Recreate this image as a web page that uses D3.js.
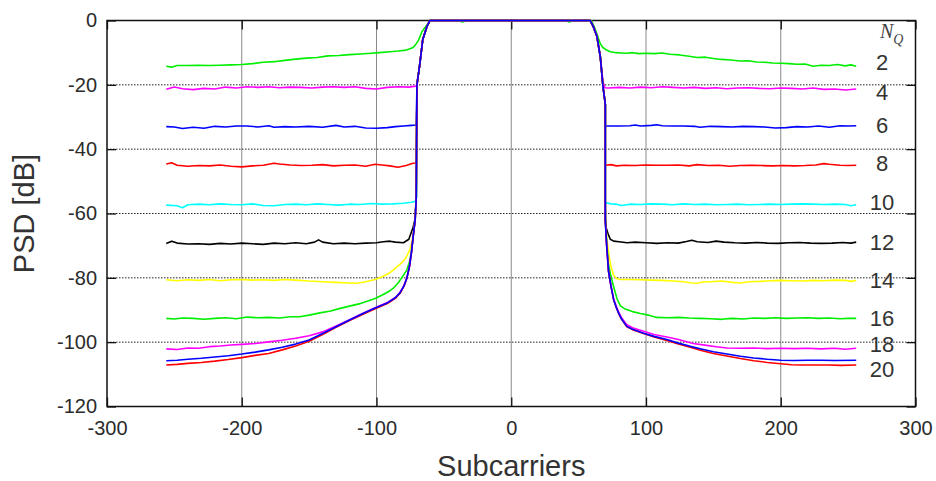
<!DOCTYPE html>
<html>
<head>
<meta charset="utf-8">
<script src="https://cdn.jsdelivr.net/npm/d3@7"></script>
<style>
  body { margin: 0; background: #fff; }
  svg { display: block; font-family: "Liberation Sans", Arial, sans-serif; }
</style>
</head>
<body>
<svg width="936" height="481"></svg>
<script>
// ---- data: [subcarrier, PSD dB] ----
const xTicks = [-300, -200, -100, 0, 100, 200, 300];
const yTicks = [0, -20, -40, -60, -80, -100, -120];

const psd2 = [[-256,-14.2],[-252,-14.5],[-248,-14.0],[-240,-14.0],[-232,-13.9],[-224,-14.0],[-216,-13.9],[-208,-13.8],[-200,-13.7],[-192,-13.4],[-184,-13.0],[-176,-12.8],[-168,-12.4],[-160,-12.0],[-152,-11.7],[-144,-11.5],[-136,-11.0],[-128,-10.9],[-120,-10.6],[-112,-10.4],[-104,-10.2],[-98,-10.0],[-90,-9.7],[-84,-9.5],[-78,-9.2],[-75,-8.8],[-72.6,-8.3],[-70.5,-7.2],[-68.8,-6.1],[-66.3,-3.5],[-63,-1.6],[-60.7,-0.4],[-59.5,0],[-40,0],[-36,-0.5],[-33,0],[0,0],[40,0],[43,-0.5],[46,0],[59.5,0],[61.5,-1.8],[63.6,-4.2],[66.1,-7.2],[68,-8.4],[70,-9],[73.5,-9.7],[78,-10],[82,-10.1],[86,-10.2],[90,-10.0],[95,-10.3],[100,-10.2],[106,-10.3],[112,-10.1],[118,-10.5],[125,-10.7],[132,-11.1],[138,-11.5],[144,-11.4],[150,-11.8],[156,-12.1],[163,-12.3],[170,-12.6],[176,-12.5],[182,-12.9],[188,-13.0],[194,-13.2],[200,-13.3],[206,-13.4],[212,-13.6],[218,-13.5],[224,-14.2],[230,-13.9],[236,-14.0],[242,-13.7],[248,-14.1],[252,-13.8],[256,-14.2]];

const psd4 = [[-256,-21.4],[-250,-20.7],[-244,-21.2],[-236,-21.5],[-228,-21.1],[-220,-21.3],[-212,-20.7],[-204,-21.0],[-196,-20.6],[-188,-20.8],[-180,-20.6],[-172,-20.9],[-164,-20.7],[-156,-20.8],[-148,-21.0],[-140,-20.7],[-132,-20.6],[-124,-20.8],[-116,-20.6],[-108,-21.1],[-100,-21.3],[-92,-20.8],[-84,-20.6],[-76,-20.7],[-71,-20.4],[-70.3,-20.3],[-68,-14],[-65.7,-6],[-62.7,-2],[-60.4,0],[0,0],[58.6,0],[61,-2],[63.6,-5],[66.1,-11.3],[68.1,-19],[69.5,-20.9],[72,-21.0],[80,-20.8],[88,-21.0],[96,-20.7],[104,-20.9],[112,-20.6],[120,-20.8],[128,-21.0],[136,-20.8],[144,-21.1],[152,-20.9],[160,-21.2],[168,-21.0],[176,-20.9],[184,-21.1],[192,-21.2],[200,-21.0],[208,-21.1],[216,-21.3],[224,-21.0],[232,-21.4],[240,-21.3],[248,-21.6],[256,-21.3]];

const psd6 = [[-256,-33.0],[-250,-33.1],[-244,-33.6],[-236,-33.2],[-228,-33.5],[-220,-32.9],[-212,-33.1],[-204,-32.8],[-196,-32.8],[-188,-33.1],[-180,-32.7],[-176,-33.2],[-168,-33.0],[-160,-33.1],[-150,-32.9],[-140,-33.2],[-130,-32.6],[-124,-33.1],[-116,-32.9],[-108,-33.4],[-100,-33.5],[-92,-33.3],[-86,-33.0],[-80,-32.8],[-74,-32.6],[-70.5,-32.5],[-70,-20],[-68,-14],[-65.7,-6],[-62.7,-2],[-60.4,0],[0,0],[58.6,0],[61,-2],[63.6,-5],[66.1,-11.3],[68.1,-20.6],[69.8,-26],[69.8,-32.8],[80,-32.8],[88,-32.7],[92,-32.5],[96,-32.8],[104,-32.6],[108,-32.4],[112,-32.7],[120,-32.8],[128,-32.8],[136,-32.9],[140,-33.2],[148,-32.9],[156,-33.0],[164,-33.1],[172,-32.9],[180,-33.0],[188,-33.1],[196,-33.4],[204,-33.3],[212,-33.0],[220,-33.1],[228,-32.8],[236,-33.2],[244,-32.7],[250,-32.8],[256,-32.7]];

const psd8 = [[-256,-44.6],[-252,-44.2],[-248,-45.0],[-240,-45.3],[-232,-45.1],[-224,-45.2],[-216,-44.9],[-208,-45.3],[-200,-45.5],[-192,-45.2],[-184,-45.0],[-176,-44.4],[-172,-44.6],[-164,-44.9],[-156,-45.1],[-148,-45.0],[-140,-44.8],[-132,-45.2],[-124,-45.0],[-116,-44.9],[-108,-45.3],[-101,-44.7],[-96,-44.9],[-90,-45.2],[-84,-45.6],[-78,-45.1],[-73,-44.4],[-70.5,-44.3],[-70,-20],[-68,-14],[-65.7,-6],[-62.7,-2],[-60.4,0],[0,0],[58.6,0],[61,-2],[63.6,-5],[66.1,-11.3],[68.1,-20.6],[69.8,-26],[69.8,-45],[74,-44.8],[78,-45.2],[84,-45.0],[92,-45.1],[100,-44.9],[108,-45.0],[116,-45.0],[124,-44.9],[132,-45.2],[138,-44.8],[146,-45.1],[154,-45.0],[162,-45.3],[170,-45.1],[178,-45.0],[186,-45.1],[194,-45.2],[202,-45.1],[210,-45.2],[218,-45.1],[226,-44.9],[232,-44.5],[236,-44.7],[244,-45.0],[250,-45.1],[256,-45.0]];

const psd10 = [[-256,-57.4],[-248,-57.6],[-244,-58.2],[-240,-57.3],[-232,-57.1],[-224,-57.3],[-216,-57.0],[-208,-57.2],[-200,-57.3],[-192,-57.0],[-184,-57.5],[-176,-57.6],[-168,-57.2],[-160,-57.1],[-152,-57.3],[-144,-57.0],[-136,-57.2],[-128,-57.4],[-120,-57.1],[-112,-57.2],[-104,-56.9],[-96,-57.1],[-88,-57.0],[-80,-56.8],[-74,-56.5],[-71,-56.2],[-70.3,-55],[-70,-20],[-68,-14],[-65.7,-6],[-62.7,-2],[-60.4,0],[0,0],[58.6,0],[61,-2],[63.6,-5],[66.1,-11.3],[68.1,-20.6],[69.8,-26],[69.8,-56.6],[74,-57.0],[78,-57.1],[82,-57.5],[88,-57.1],[96,-57.2],[104,-57.0],[112,-57.1],[120,-57.3],[128,-57.0],[136,-57.2],[144,-57.1],[152,-57.3],[160,-57.2],[168,-57.1],[176,-57.3],[184,-57.2],[192,-57.1],[200,-57.2],[208,-57.1],[216,-57.0],[224,-57.1],[232,-57.2],[240,-57.1],[248,-57.2],[252,-57.6],[256,-57.3]];

const psd12 = [[-256,-69.3],[-252,-68.6],[-248,-69.2],[-240,-69.5],[-232,-69.4],[-224,-69.6],[-216,-69.3],[-208,-69.5],[-200,-69.2],[-192,-69.4],[-184,-69.6],[-176,-69.2],[-168,-69.4],[-160,-69.1],[-152,-69.4],[-146,-68.9],[-143,-68.2],[-140,-68.9],[-132,-69.4],[-124,-69.2],[-116,-69.4],[-108,-69.2],[-100,-69.1],[-95,-68.8],[-90,-68.6],[-86,-68.9],[-80,-69.1],[-76,-68.0],[-74.5,-66.2],[-73,-64.5],[-71.5,-62],[-70.5,-55],[-70,-20],[-68,-14],[-65.7,-6],[-62.7,-2],[-60.4,0],[0,0],[58.6,0],[61,-2],[63.6,-5],[66.1,-11.3],[68.1,-20.6],[69.8,-26],[69.8,-55],[70,-62],[70.5,-64.5],[72,-66.5],[73.5,-68],[76,-68.6],[80,-68.8],[86,-69.1],[92,-68.9],[100,-69.1],[108,-69.3],[116,-69.1],[124,-69.2],[130,-68.7],[134,-68.3],[138,-68.8],[146,-69.0],[152,-68.6],[158,-68.9],[166,-69.1],[174,-69.2],[182,-69.0],[190,-69.2],[198,-69.3],[206,-69.1],[214,-69.0],[222,-69.2],[230,-69.3],[238,-69.2],[246,-69.0],[252,-69.2],[256,-68.9]];

const psd14 = [[-256,-80.6],[-248,-80.9],[-240,-80.6],[-232,-80.8],[-224,-80.5],[-216,-80.9],[-208,-80.6],[-200,-80.5],[-192,-80.7],[-184,-80.6],[-176,-80.8],[-168,-80.5],[-160,-80.7],[-150,-81.0],[-140,-81.2],[-130,-81.4],[-120,-81.6],[-114.7,-81.7],[-108,-81.2],[-101,-80.5],[-95,-79.5],[-90,-78.4],[-87.7,-77.6],[-84,-76.3],[-80,-74.8],[-77.5,-73.2],[-75.5,-71.5],[-74,-69.5],[-72.6,-66],[-71.3,-62],[-70.5,-55],[-70,-20],[-68,-14],[-65.7,-6],[-62.7,-2],[-60.4,0],[0,0],[58.6,0],[61,-2],[63.6,-5],[66.1,-11.3],[68.1,-20.6],[69.8,-26],[69.8,-62],[71,-68],[72.5,-73],[74,-76.5],[76,-79.2],[78,-80.2],[81,-80.5],[88,-80.5],[96,-80.6],[104,-80.7],[112,-80.8],[120,-81.0],[128,-81.2],[134,-81.6],[138,-81.7],[142,-81.3],[148,-81.2],[156,-81.0],[164,-81.4],[170,-81.6],[176,-81.2],[184,-81.1],[192,-80.9],[200,-80.8],[208,-80.9],[216,-81.0],[224,-80.8],[232,-80.9],[240,-80.7],[248,-80.8],[252,-81.1],[256,-80.8]];

const psd16 = [[-256,-92.6],[-250,-92.8],[-244,-92.5],[-236,-92.6],[-228,-92.9],[-220,-92.6],[-212,-92.4],[-204,-92.7],[-196,-92.2],[-188,-92.4],[-180,-92.3],[-172,-92.5],[-164,-92.1],[-157,-92.1],[-150,-91.6],[-142,-90.9],[-134,-90.3],[-127,-89.5],[-120,-88.8],[-113,-88.1],[-107,-87.3],[-101,-86.4],[-95,-85.2],[-90,-84.0],[-87.7,-83.3],[-84,-81.6],[-80.5,-79.5],[-77.5,-77.6],[-75.5,-75],[-74,-71.5],[-72.6,-66.5],[-71.3,-62],[-70.5,-55],[-70,-20],[-68,-14],[-65.7,-6],[-62.7,-2],[-60.4,0],[0,0],[58.6,0],[61,-2],[63.6,-5],[66.1,-11.3],[68.1,-20.6],[69.8,-26],[69.8,-62],[71,-70],[72.2,-76],[74,-79.5],[76,-82.8],[78.5,-86.5],[81,-88.7],[85,-89.8],[90,-90.5],[95.8,-91.1],[102,-91.6],[108,-92.3],[116,-92.4],[124,-92.3],[132,-92.5],[140,-92.6],[148,-92.7],[156,-92.9],[164,-92.6],[172,-92.8],[180,-92.5],[188,-92.6],[196,-92.4],[204,-92.6],[212,-92.5],[220,-92.4],[228,-92.6],[236,-92.5],[244,-92.7],[250,-92.6],[256,-92.6]];

const psd18 = [[-256,-102.1],[-248,-102.3],[-240,-101.8],[-232,-101.9],[-224,-101.4],[-216,-101.2],[-208,-100.9],[-200,-100.7],[-190,-100.4],[-180,-99.9],[-170,-99.4],[-160,-98.8],[-150,-98.0],[-140,-96.8],[-130,-95.0],[-120,-93.0],[-110,-91.0],[-101,-89.3],[-92,-87.7],[-86,-86.1],[-82.5,-84.5],[-79.5,-82.3],[-77.5,-80.0],[-75.5,-76.3],[-74,-71.8],[-72.6,-66.3],[-71.3,-62],[-70.5,-55],[-70,-20],[-68,-14],[-65.7,-6],[-62.7,-2],[-60.4,0],[0,0],[58.6,0],[61,-2],[63.6,-5],[66.1,-11.3],[68.1,-20.6],[69.8,-26],[69.8,-62],[70.8,-70],[72.2,-78],[74,-82.5],[76,-86.6],[78,-88.9],[79.7,-90.7],[82,-92.5],[85.8,-94.6],[90,-95.5],[98.2,-96.6],[106,-97.6],[115.5,-98.4],[124,-99.2],[135,-100.4],[145,-101.0],[152,-101.4],[160,-101.8],[170,-101.9],[180,-101.8],[190,-102.0],[200,-101.9],[210,-102.0],[220,-101.9],[230,-102.1],[240,-101.9],[248,-102.2],[256,-101.9]];

const psdRef = [[-256,-107.1],[-248,-106.9],[-240,-106.6],[-230,-106.3],[-220,-105.9],[-210,-105.4],[-200,-104.8],[-190,-104.1],[-180,-103.5],[-170,-102.4],[-160,-101.2],[-150,-99.7],[-140,-97.6],[-130,-95.4],[-120,-93.3],[-110,-91.3],[-101,-89.6],[-92,-88.0],[-86,-86.4],[-82.5,-84.8],[-79.5,-82.5],[-77.5,-80.2],[-75.5,-76.5],[-74,-72],[-72.6,-66.5],[-71.3,-62],[-70.5,-55],[-70,-20],[-68,-14],[-65.7,-6],[-62.7,-2],[-60.4,0],[0,0],[58.6,0],[61,-2],[63.6,-5],[66.1,-11.3],[68.1,-20.6],[69.8,-26],[69.8,-62],[70.8,-70],[72.2,-78],[74,-82.5],[76,-86.9],[78,-89.3],[79.7,-91.1],[82,-93.0],[85.8,-95.2],[90,-96.1],[98.2,-97.3],[106,-98.4],[115.5,-99.5],[124,-100.6],[132.8,-101.6],[141,-102.6],[150,-103.5],[160,-104.3],[170,-105.1],[180,-105.8],[190,-106.3],[200,-106.7],[208,-107.0],[215,-107.1],[225,-107.1],[235,-107.1],[245,-107.2],[256,-107.1]];

const psd20 = [[-256,-105.8],[-248,-105.6],[-240,-105.3],[-230,-105.0],[-220,-104.6],[-210,-104.2],[-200,-103.7],[-190,-103.1],[-180,-102.4],[-170,-101.6],[-160,-100.6],[-150,-99.3],[-140,-97.3],[-130,-95.2],[-120,-93.1],[-110,-91.1],[-101,-89.4],[-92,-87.8],[-86,-86.2],[-82.5,-84.6],[-79.5,-82.4],[-77.5,-80.1],[-75.5,-76.4],[-74,-72],[-72.6,-66.5],[-71.3,-62],[-70.5,-55],[-70,-20],[-68,-14],[-65.7,-6],[-62.7,-2],[-60.4,0],[0,0],[58.6,0],[61,-2],[63.6,-5],[66.1,-11.3],[68.1,-20.6],[69.8,-26],[69.8,-62],[70.8,-70],[72.2,-78],[74,-82.5],[76,-86.8],[78,-89.2],[79.7,-91.0],[82,-92.9],[85.8,-95.1],[90,-96.0],[98.2,-97.2],[106,-98.2],[115.5,-99.2],[124,-100.3],[132.8,-101.3],[141,-102.1],[150,-103.0],[160,-103.7],[170,-104.4],[180,-104.9],[190,-105.3],[200,-105.6],[210,-105.7],[220,-105.6],[230,-105.6],[240,-105.7],[256,-105.6]];

// drawing order: later ones end up on top
const seriesData = [psd2, psd4, psd6, psd8, psd10, psd12, psd14, psd16, psd18, psdRef, psd20];
const seriesColors = ["#00ee00", "#ff00ff", "#0000ff", "#ff0000", "#00ffff", "#000000", "#ffff00", "#00ee00", "#ff00ff", "#ff0000", "#0000ff"];

// N_Q labels and the PSD level they sit at
const nqLabels = ["2", "4", "6", "8", "10", "12", "14", "16", "18", "20"];
const nqLevels = [-12.9, -22.2, -32.5, -44.3, -56.5, -68.9, -80.7, -92.5, -100.5, -108.5];

// ---- layout ----
let svg = d3.select("svg");
let margin = { left: 107, right: 20.5, top: 20.5, bottom: 74.5 };
let width = +svg.attr("width") - margin.left - margin.right;
let height = +svg.attr("height") - margin.top - margin.bottom;

let x = d3.scaleLinear().domain([-300, 300]).range([0, width]);
let y = d3.scaleLinear().domain([-120, 0]).range([height, 0]);

let g = svg.append("g").attr("transform", `translate(${margin.left},${margin.top})`);

// vertical grid (solid grey)
g.append("g")
    .selectAll("line")
    .data(xTicks.filter((d) => d > -300 && d < 300))
    .enter()
    .append("line")
    .attr("x1", (d) => x(d))
    .attr("x2", (d) => x(d))
    .attr("y1", 0)
    .attr("y2", height)
    .attr("stroke", "#8a8a8a")
    .attr("stroke-width", 1);

// horizontal grid (dotted black)
g.append("g")
    .selectAll("line")
    .data(yTicks.filter((d) => d < 0 && d > -120))
    .enter()
    .append("line")
    .attr("x1", 0)
    .attr("x2", width)
    .attr("y1", (d) => y(d))
    .attr("y2", (d) => y(d))
    .attr("stroke", "#222")
    .attr("stroke-width", 1)
    .attr("stroke-dasharray", "1.5,1.5");

// axes with inward ticks, plain hyphen for negatives
let tickLen = 9;
let fmt = (d) => String(d);
let xAxis = g.append("g")
    .attr("transform", `translate(0,${height})`)
    .call(d3.axisBottom(x).tickValues(xTicks).tickFormat(fmt).tickSizeInner(-tickLen).tickSizeOuter(0).tickPadding(14));
let xTop = g.append("g")
    .call(d3.axisTop(x).tickValues(xTicks).tickSizeInner(-tickLen).tickSizeOuter(0).tickFormat(""));
let yAxis = g.append("g")
    .call(d3.axisLeft(y).tickValues(yTicks).tickFormat(fmt).tickSizeInner(-tickLen).tickSizeOuter(0).tickPadding(10));
let yRight = g.append("g")
    .attr("transform", `translate(${width},0)`)
    .call(d3.axisRight(y).tickValues(yTicks).tickSizeInner(-tickLen).tickSizeOuter(0).tickFormat(""));

[xAxis, xTop, yAxis, yRight].forEach((a) => {
    a.select(".domain").remove();
    a.selectAll("line").attr("stroke", "#111").attr("stroke-width", 1.3);
    a.selectAll("text")
        .attr("fill", "#2b2b2b")
        .style("font-size", "20px")
        .style("font-family", '"Liberation Sans", Arial, sans-serif');
});

// frame
g.append("rect")
    .attr("width", width)
    .attr("height", height)
    .attr("fill", "none")
    .attr("stroke", "#111")
    .attr("stroke-width", 1.5);

// PSD curves
svg.append("clipPath")
    .attr("id", "plot-clip")
    .append("rect")
    .attr("x", 0)
    .attr("y", -2)
    .attr("width", width)
    .attr("height", height + 2);

let line = d3.line()
    .x((d) => x(d[0]))
    .y((d) => y(d[1]));

g.append("g")
    .attr("clip-path", "url(#plot-clip)")
    .selectAll("path")
    .data(seriesData)
    .enter()
    .append("path")
    .attr("d", line)
    .attr("fill", "none")
    .attr("stroke", (d, i) => seriesColors[i])
    .attr("stroke-width", 1.6)
    .attr("stroke-linejoin", "round");

// N_Q legend labels
let labelX = 882;
let nq = svg.append("text")
    .attr("x", 880)
    .attr("y", 38)
    .attr("fill", "#444")
    .style("font-family", '"Liberation Serif", "DejaVu Serif", serif')
    .style("font-style", "italic");
nq.append("tspan").style("font-size", "20px").text("N");
nq.append("tspan").style("font-size", "14px").attr("dy", 6).text("Q");

svg.append("g")
    .selectAll("text")
    .data(nqLabels)
    .enter()
    .append("text")
    .attr("x", labelX)
    .attr("y", (d, i) => margin.top + y(nqLevels[i]))
    .attr("dy", "0.36em")
    .attr("text-anchor", "middle")
    .attr("fill", "#333")
    .style("font-size", "22px")
    .text((d) => d);

// axis titles
svg.append("text")
    .attr("x", margin.left + width / 2)
    .attr("y", 476)
    .attr("text-anchor", "middle")
    .attr("fill", "#333")
    .style("font-size", "29px")
    .text("Subcarriers");

svg.append("text")
    .attr("transform", `translate(34,${margin.top + height / 2}) rotate(-90)`)
    .attr("text-anchor", "middle")
    .attr("fill", "#333")
    .style("font-size", "29px")
    .text("PSD [dB]");
</script>
</body>
</html>
